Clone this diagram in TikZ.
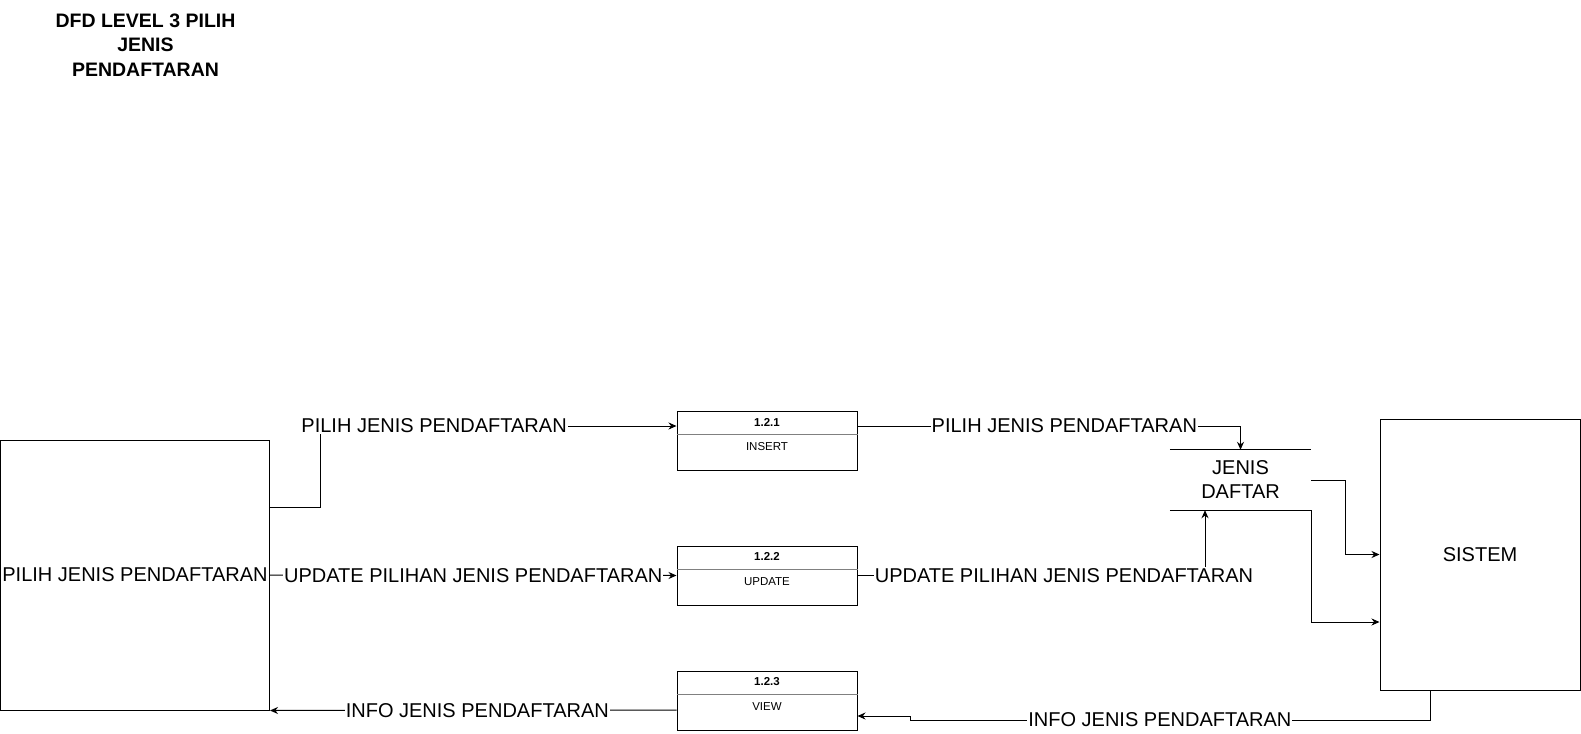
\documentclass[tikz,border=0pt]{standalone}
\usepackage{fontspec}
\setmainfont{Liberation Sans}
\usetikzlibrary{
	calc,
	arrows.meta}

\begin{document}
\begin{tikzpicture}[x=1pt,y=-1pt,every text node part/.style={align=center}]
		\tikzstyle{entity}=[draw,line width=1pt,inner sep=0pt,
							font=\fontsize{20}{24}\selectfont]
		\tikzstyle{proc}=[draw,line width=1pt,minimum width=180pt,
							minimum height=59pt,inner sep=0pt]
		\tikzstyle{flow}=[-{Stealth[length=8pt,width=7pt]},line width=1pt]
		\tikzstyle{lbl}=[fill=white,inner sep=1pt,font=\fontsize{20}{24}\selectfont]
		\tikzstyle{small}=[inner sep=0pt,font=\fontsize{11.5}{14}\selectfont]

		\useasboundingbox (0,0) rectangle (1581,733);

		% title
		\node[font=\bfseries\fontsize{19.5}{24.5}\selectfont] (title) at (145.5,45) {DFD LEVEL 3 PILIH\\JENIS\\PENDAFTARAN};

		% entities
		\node[entity,minimum width=269pt,minimum height=270pt] (user) at (135,575) {PILIH JENIS PENDAFTARAN};
		\node[entity,minimum width=200pt,minimum height=271pt] (sistem) at (1480,554.5) {SISTEM};

		% processes
		\foreach \name/\y/\num/\txt in {p1/411/1.2.1/INSERT, p2/545.5/1.2.2/UPDATE, p3/670.5/1.2.3/VIEW}{
			\node[proc,anchor=north] (\name) at (767,\y) {};
			\node[small] (\name-num) at ($(\name.north)+(0,11)$) {\textbf{\num}};
			\draw[gray] ($(\name.north west)+(0,23.5)$) -- ($(\name.north east)+(0,23.5)$);
			\node[small] (\name-txt) at ($(\name.north)+(0,36)$) {\txt};
		}

		% data store
		\node[minimum width=141pt,minimum height=60pt,inner sep=0pt,
			font=\fontsize{20}{24}\selectfont] (store) at (1240.5,480) {JENIS\\DAFTAR};
		\draw[line width=1pt] (store.north west) -- (store.north east);
		\draw[line width=1pt] (store.south west) -- (store.south east);

		% flows
		\draw[flow] ($(user.north east)!0.25!(user.south east)$) -- ++(50,0)
			|- ($(p1.west)+(0,-15)$) node[lbl,pos=0.66] (f1) {PILIH JENIS PENDAFTARAN};
		\draw[flow] ($(p1.east)+(0,-15)$) -| (store.north)
			node[lbl,pos=0.27] (f2) {PILIH JENIS PENDAFTARAN};
		\draw[flow] (user.east) -- (p2.west)
			node[lbl,midway] (f3) {UPDATE PILIHAN JENIS PENDAFTARAN};
		\draw[flow] (p2.east) -| ($(store.south)+(-35.5,0)$)
			node[lbl,pos=0.297] (f4) {UPDATE PILIHAN JENIS PENDAFTARAN};
		\draw[flow] (store.east) -- ++(34,0) |- (sistem.west);
		\draw[flow] (store.south east) |- ($(sistem.west)+(0,67.5)$);
		\draw[flow] ($(sistem.south)+(-50,0)$) |- ($(p3.east)+(53,19.5)$)
			node[lbl,pos=0.76] (f5) {INFO JENIS PENDAFTARAN}
			-- ++(0,-4) -- ($(p3.east)+(0,15.5)$);
		\draw[flow] ($(p3.west)+(0,9.5)$) -- (user.south east)
			node[lbl,pos=0.49] (f6) {INFO JENIS PENDAFTARAN};

	\end{tikzpicture}
\end{document}
